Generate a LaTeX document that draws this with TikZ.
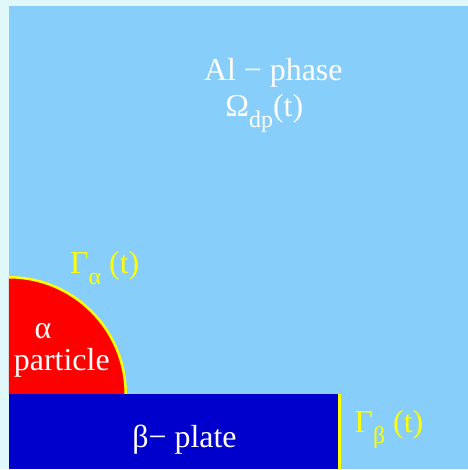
\documentclass[tikz,border=0pt]{standalone}
\usepackage{fontspec}
\setmainfont{Liberation Serif}
\usepackage{tikz}
\definecolor{phasesky}{RGB}{135,206,250}
\definecolor{phaseedge}{RGB}{224,248,250}
\definecolor{plateblue}{RGB}{0,0,204}
\definecolor{bndyellow}{RGB}{255,255,0}
\newcommand{\lowsub}[1]{\raisebox{-0.35em}{\fontsize{24}{26}\selectfont #1}}

\begin{document}
\begin{tikzpicture}[x=1pt, y=1pt,
      lbl/.style={inner sep=0pt, text=white, font=\fontsize{32}{36}\selectfont, align=center},
      bnd/.style={inner sep=0pt, text=bndyellow, font=\fontsize{32}{36}\selectfont}
    ]
      \fill[phaseedge] (0,0) rectangle (469,470);
      \fill[phasesky] (9,0) rectangle (469,464);

      % alpha particle
      \fill[red] (9,75) -- (126,75) arc[start angle=0, end angle=90, radius=117] -- cycle;
      \draw[bndyellow, line width=2.5pt] (126,75) arc[start angle=0, end angle=90, radius=117];

      % beta plate
      \fill[plateblue] (9,0) rectangle (339,75);
      \draw[bndyellow, line width=2.5pt] (340.5,0) -- (340.5,75);

      \node[lbl] (phase) at (274,397) {Al − phase};
      \node[lbl] (omega) at (265,356) {Ω\lowsub{dp}(t)};
      \node[bnd] (galpha) at (105,201) {Γ\lowsub{α} (t)};
      \node[lbl] (alpha) at (43,138) {α};
      \node[lbl] (particle) at (62,106) {particle};
      \node[lbl] (plate) at (185,29) {β− plate};
      \node[bnd] (gbeta) at (390,39) {Γ\lowsub{β} (t)};
    \end{tikzpicture}
\end{document}
